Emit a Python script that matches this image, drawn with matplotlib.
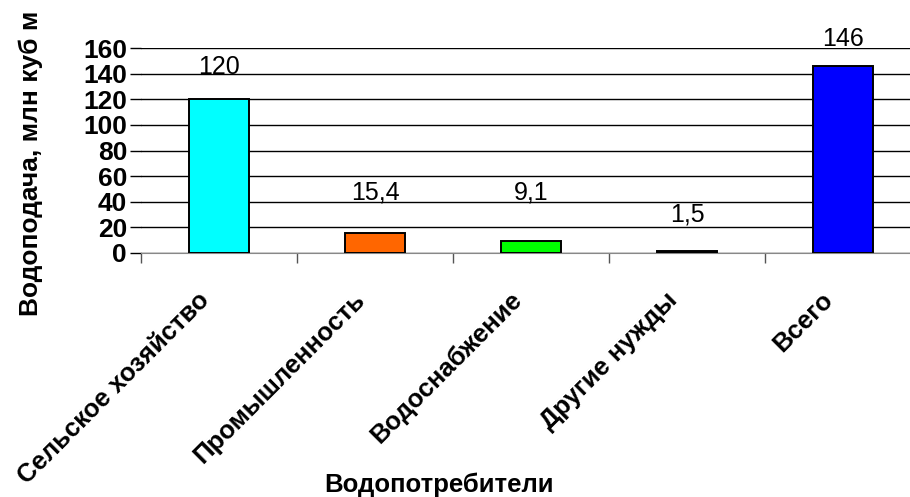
import matplotlib.pyplot as plt
import matplotlib.transforms as mtransforms
import numpy as np

plt.rcParams['font.family'] = ['Liberation Sans', 'DejaVu Sans']

categories = ["Сельское хозяйство", "Промышленность", "Водоснабжение",
              "Другие нужды", "Всего"]
values = [120, 15.4, 9.1, 1.5, 146]
value_labels = ["120", "15,4", "9,1", "1,5", "146"]
colors = ["#00FFFF", "#FF6600", "#00FF00", "#000000", "#0000FF"]

# label heights above the category, as in the spreadsheet layout
label_y = [145, 47, 47, 30, 167]

fig = plt.figure(figsize=(9.1, 4.97), dpi=100)
ax = fig.add_axes([141 / 910, 1 - 253 / 497, 1 - 141 / 910 + 0.012, 205 / 497])

x = np.arange(len(categories))
ax.bar(x, values, width=0.39, color=colors, edgecolor="black", linewidth=1.4, zorder=3)

for xi, txt, yy in zip(x, value_labels, label_y):
    ax.text(xi, yy, txt, ha="center", va="center", fontsize=18)

ax.set_ylim(0, 160)
ax.set_xlim(-0.5, len(categories) - 0.5)
ax.set_yticks(np.arange(0, 161, 20))
ax.yaxis.grid(True, color="black", linewidth=1.0, zorder=0)
ax.tick_params(axis="y", length=8, width=1, labelsize=19, pad=2)
for lab in ax.get_yticklabels():
    lab.set_fontweight("bold")

ax.set_xticks(x)
ax.set_xticklabels(categories, rotation=45, ha="right", rotation_mode="anchor",
                   fontsize=18.5, fontweight="bold")
ax.tick_params(axis="x", length=0, pad=25)
shift = mtransforms.ScaledTranslation(-0.22, 0, fig.dpi_scale_trans)
for lab in ax.get_xticklabels():
    lab.set_transform(lab.get_transform() + shift)
ax.set_xticks(np.arange(-0.5, len(categories)), minor=True)
ax.tick_params(axis="x", which="minor", length=7, width=1, color="#555555")

for side in ["left", "top", "right"]:
    ax.spines[side].set_visible(False)
ax.spines["bottom"].set_color("#888888")

ax.set_ylabel("Водоподача, млн куб м", fontsize=19, fontweight="bold")
ax.yaxis.set_label_coords((44 - 141) / 769, (253 - 163) / 205)
ax.set_xlabel("Водопотребители", fontsize=18.5, fontweight="bold")
ax.xaxis.set_label_coords((435 - 141) / 769, (253 - 473) / 205)

fig.savefig("out.png", dpi=100)
